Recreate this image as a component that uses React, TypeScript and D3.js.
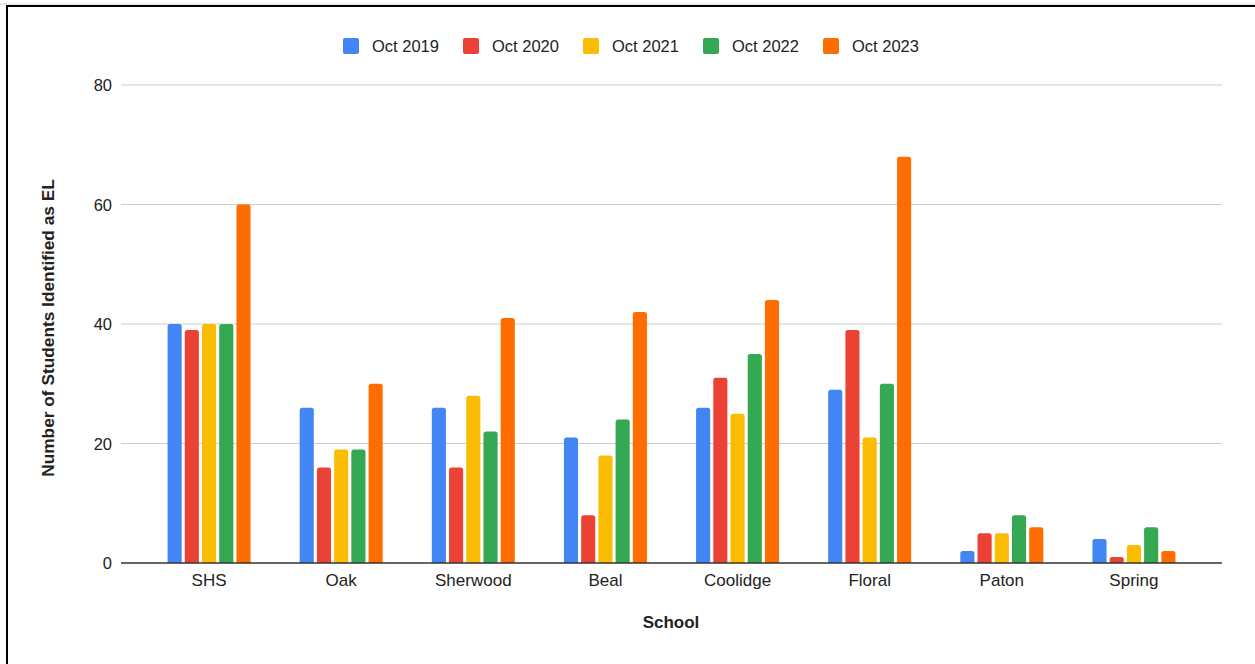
import React from "react";
import * as d3 from "d3";

const schools = ["SHS", "Oak", "Sherwood", "Beal", "Coolidge", "Floral", "Paton", "Spring"];
const seriesNames = ["Oct 2019", "Oct 2020", "Oct 2021", "Oct 2022", "Oct 2023"];
const oct2019 = [40, 26, 26, 21, 26, 29, 2, 4];
const oct2020 = [39, 16, 16, 8, 31, 39, 5, 1];
const oct2021 = [40, 19, 28, 18, 25, 21, 5, 3];
const oct2022 = [40, 19, 22, 24, 35, 30, 8, 6];
const oct2023 = [60, 30, 41, 42, 44, 68, 6, 2];
const yTicks = [0, 20, 40, 60, 80];
const colors = ["#4285F4", "#EA4335", "#FBBC04", "#34A853", "#FF6D01"];

const allSeries = [oct2019, oct2020, oct2021, oct2022, oct2023];

const W = 1255;
const H = 664;
const plotLeft = 121;
const plotRight = 1222;
const yTop = 85;
const yBottom = 563;
const font = "Arial, 'Liberation Sans', sans-serif";

function topRounded(x: number, y: number, w: number, h: number, r: number) {
  const rr = Math.min(r, h, w / 2);
  if (h <= 0) return "";
  return `M${x},${y + h}V${y + rr}Q${x},${y} ${x + rr},${y}H${x + w - rr}Q${x + w},${y} ${x + w},${y + rr}V${y + h}Z`;
}

export default function App() {
  const y = d3.scaleLinear().domain([0, 80]).range([yBottom, yTop]);
  const x = d3.scaleBand<string>().domain(schools).range([143, 1200]).paddingInner(0).paddingOuter(0);
  const inner = d3
    .scaleBand<number>()
    .domain(d3.range(seriesNames.length))
    .range([(x.bandwidth() - 83) / 2, (x.bandwidth() + 83) / 2])
    .paddingInner(0.18)
    .paddingOuter(0);

  return (
    <div style={{ position: "absolute", left: 0, top: 0 }}>
      <svg width={W} height={H} style={{ display: "block", background: "#fff" }}>
        <line x1={0} x2={W} y1={4} y2={4} stroke="#d8d8d8" strokeWidth={1} />
        <rect x={7} y={6} width={W + 20} height={H + 20} fill="none" stroke="#000" strokeWidth={2} />
        {/* legend */}
        {seriesNames.map((name, i) => {
          const lx = 343 + i * 120;
          return (
            <g key={name}>
              <rect x={lx} y={38} width={16} height={16} rx={2} fill={colors[i]} />
              <text x={lx + 29} y={52} fontFamily={font} fontSize={16.5} fill="#222">
                {name}
              </text>
            </g>
          );
        })}
        {/* grid */}
        {yTicks.map((t) => (
          <g key={t}>
            {t !== 0 && (
              <line x1={plotLeft} x2={plotRight} y1={y(t)} y2={y(t)} stroke="#cccccc" strokeWidth={1} />
            )}
            <text x={112} y={y(t) + 6} textAnchor="end" fontFamily={font} fontSize={16.5} fill="#222">
              {t}
            </text>
          </g>
        ))}
        {/* bars */}
        {schools.map((s, ci) => (
          <g key={s}>
            {allSeries.map((vals, si) => {
              const bx = (x(s) as number) + (inner(si) as number);
              const by = y(vals[ci]);
              return (
                <path
                  key={si}
                  d={topRounded(bx, by, inner.bandwidth(), yBottom - by, 2.5)}
                  fill={colors[si]}
                />
              );
            })}
            <text
              x={(x(s) as number) + x.bandwidth() / 2}
              y={586}
              textAnchor="middle"
              fontFamily={font}
              fontSize={17}
              fill="#222"
            >
              {s}
            </text>
          </g>
        ))}
        <line x1={plotLeft} x2={plotRight} y1={yBottom} y2={yBottom} stroke="#333" strokeWidth={1.3} />
        {/* axis titles */}
        <text x={671} y={628} textAnchor="middle" fontFamily={font} fontSize={17} fontWeight="bold" fill="#222">
          School
        </text>
        <text
          transform={`translate(54,328) rotate(-90)`}
          textAnchor="middle"
          fontFamily={font}
          fontSize={17.3}
          fontWeight="bold"
          fill="#222"
        >
          Number of Students Identified as EL
        </text>
      </svg>
    </div>
  );
}
